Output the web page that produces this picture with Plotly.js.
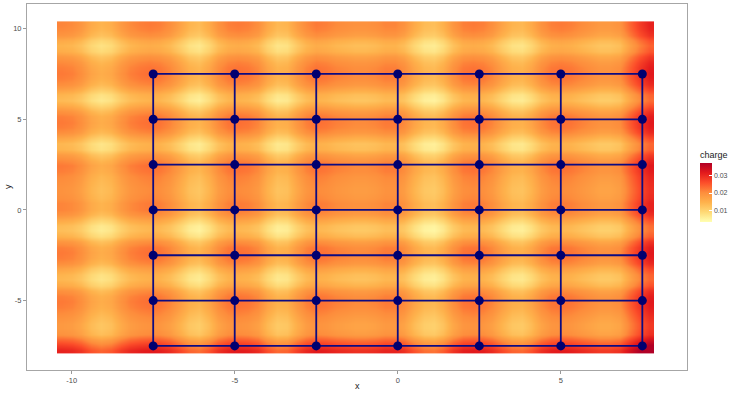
<!DOCTYPE html>
<html>
<head>
<meta charset="utf-8">
<script src="https://cdn.plot.ly/plotly-3.0.1.min.js"></script>
<style>
html,body{margin:0;padding:0;background:#fff;}
#chart{width:736px;height:393px;}
</style>
</head>
<body>
<div id="chart"></div>
<script>
// grid of charges (points and connecting lines)
const gridX = [-7.5, -5, -2.5, 0, 2.5, 5, 7.5];
const gridY = [-7.5, -5, -2.5, 0, 2.5, 5, 7.5];

// raster sample centres
const rasterX = [-10.3,-10.0,-9.7,-9.4,-9.1,-8.8,-8.5,-8.2,-7.9,-7.6,-7.3,-7.0,-6.7,-6.4,-6.1,-5.8,-5.5,-5.2,-4.9,-4.6,-4.3,-4.0,-3.7,-3.4,-3.1,-2.8,-2.5,-2.2,-1.9,-1.6,-1.3,-1.0,-0.7,-0.4,-0.1,0.2,0.5,0.8,1.1,1.4,1.7,2.0,2.3,2.6,2.9,3.2,3.5,3.8,4.1,4.4,4.7,5.0,5.3,5.6,5.9,6.2,6.5,6.8,7.1,7.4,7.7];
const rasterY = [-7.75,-7.45,-7.15,-6.85,-6.55,-6.25,-5.95,-5.65,-5.35,-5.05,-4.75,-4.45,-4.15,-3.85,-3.55,-3.25,-2.95,-2.65,-2.35,-2.05,-1.75,-1.45,-1.15,-0.85,-0.55,-0.25,0.05,0.35,0.65,0.95,1.25,1.55,1.85,2.15,2.45,2.75,3.05,3.35,3.65,3.95,4.25,4.55,4.85,5.15,5.45,5.75,6.05,6.35,6.65,6.95,7.25,7.55,7.85,8.15,8.45,8.75,9.05,9.35,9.65,9.95,10.25];

// charge contribution read along x (columns) and along y (rows), in units of 0.001
const chargeCol = [10.5,10,8.5,5.5,4,5,8,10,11,11.5,11,9.5,7,4,3,5.5,9,11,11.5,11,9.5,6,3.5,4,7.5,10,11.5,11,10,9.5,9,9,9.5,10.5,10.5,9,5.5,3,2.5,4.5,8.5,11,11.5,11,9.5,6.5,4,3.5,5.5,9,11,11.5,11,10,9,8,8,9,13,17,20];
const chargeRow = [20,17,13,9,8,8,9,10,11,11.5,11,9,5.5,3.5,4,6.5,9.5,11,11.5,11,8.5,4.5,2.5,3,5.5,9,10.5,10.5,9.5,9,9,9.5,10,11,11.5,10,7.5,4,3.5,6,9.5,11,11.5,11,9,5.5,3,4,7,9.5,11,11.5,11,10,8,5,4,5.5,8.5,10,10.5];

const chargeZ = chargeRow.map(r => chargeCol.map(c => (r + c) / 1000));

const ylorrd = [
  [0, '#FFFFB2'], [1/6, '#FED976'], [2/6, '#FEB24C'], [3/6, '#FD8D3C'],
  [4/6, '#FC4E2A'], [5/6, '#E31A1C'], [1, '#B10026']
];

const heat = {
  type: 'heatmap', x: rasterX, y: rasterY, z: chargeZ,
  zsmooth: 'best', colorscale: ylorrd, zmin: 0.0038, zmax: 0.0368,
  hoverinfo: 'skip',
  colorbar: {
    title: {text: 'charge', side: 'top', font: {family: 'Liberation Sans, Arial, sans-serif', size: 9, color: '#1a1a1a'}},
    x: 1.0197, xanchor: 'left', y: 0.5055, yanchor: 'middle',
    thickness: 12, thicknessmode: 'pixels', len: 74, lenmode: 'pixels',
    outlinewidth: 0, tickvals: [0.01, 0.02, 0.03], ticktext: ['0.01', '0.02', '0.03'],
    ticks: 'inside', ticklen: 3, tickcolor: '#ffffff', tickwidth: 1,
    tickfont: {family: 'Liberation Sans, Arial, sans-serif', size: 7, color: '#4d4d4d'},
    xpad: 0, ypad: 0
  }
};

// connecting lines (rows then columns), separated by nulls
const lineX = [], lineY = [];
gridY.forEach(yv => { lineX.push(gridX[0], gridX[gridX.length - 1], null); lineY.push(yv, yv, null); });
gridX.forEach(xv => { lineX.push(xv, xv, null); lineY.push(gridY[0], gridY[gridY.length - 1], null); });

const lines = {
  type: 'scatter', mode: 'lines', x: lineX, y: lineY,
  line: {color: '#0b0b82', width: 1.8}, hoverinfo: 'skip', showlegend: false
};

const ptX = [], ptY = [];
gridY.forEach(yv => gridX.forEach(xv => { ptX.push(xv); ptY.push(yv); }));
const pts = {
  type: 'scatter', mode: 'markers', x: ptX, y: ptY,
  marker: {color: '#000070', size: 9}, hoverinfo: 'skip', showlegend: false
};

const axisFont = {family: 'Liberation Sans, Arial, sans-serif', size: 7.5, color: '#4d4d4d'};
const layout = {
  width: 736, height: 393,
  margin: {l: 27, r: 49, t: 4, b: 23},
  paper_bgcolor: '#ffffff', plot_bgcolor: '#ffffff',
  showlegend: false,
  xaxis: {
    range: [-11.37, 8.87], tickvals: [-10, -5, 0, 5], ticktext: ['-10', '-5', '0', '5'],
    showgrid: false, zeroline: false, ticks: 'outside', ticklen: 3, tickcolor: '#999999',
    showline: true, mirror: true, linecolor: '#a6a6a6', linewidth: 1,
    tickfont: axisFont, automargin: false
  },
  yaxis: {
    range: [-8.83, 11.36], tickvals: [-5, 0, 5, 10], ticktext: ['-5', '0', '5', '10'],
    showgrid: false, zeroline: false, ticks: 'outside', ticklen: 3, tickcolor: '#999999',
    showline: true, mirror: true, linecolor: '#a6a6a6', linewidth: 1,
    tickfont: axisFont, automargin: false
  },
  annotations: [
    {text: 'x', xref: 'paper', yref: 'paper', x: 0.5, y: 0, yanchor: 'middle', yshift: -16,
     showarrow: false, font: {family: 'Liberation Sans, Arial, sans-serif', size: 9, color: '#1a1a1a'}},
    {text: 'y', xref: 'paper', yref: 'paper', x: 0, y: 0.5, xanchor: 'center', xshift: -19, textangle: -90,
     showarrow: false, font: {family: 'Liberation Sans, Arial, sans-serif', size: 9, color: '#1a1a1a'}}
  ]
};

Plotly.newPlot('chart', [heat, lines, pts], layout, {displayModeBar: false, staticPlot: true});
</script>
</body>
</html>
